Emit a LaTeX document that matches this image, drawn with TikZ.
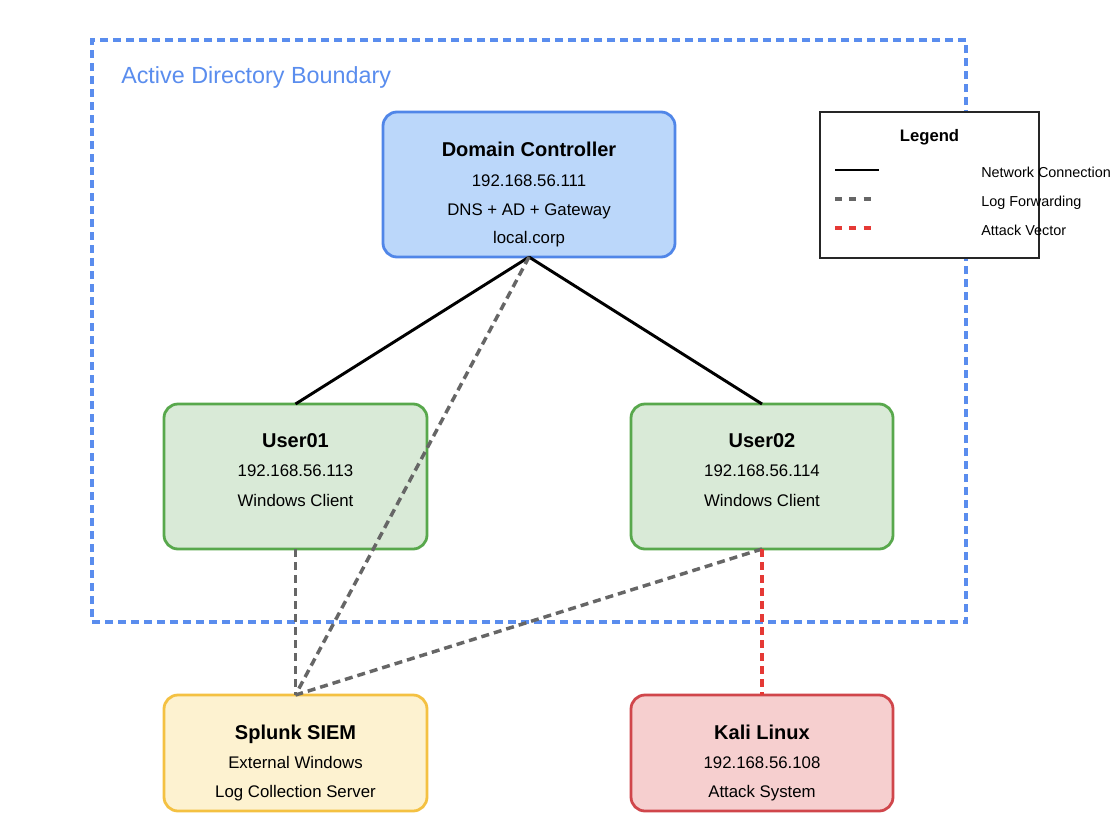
\documentclass[tikz,border=0pt]{standalone}
\usepackage{fontspec}
\setmainfont{Liberation Sans}
\definecolor{bndBlue}{HTML}{5A8DEE}
\definecolor{dcFill}{HTML}{BBD7FA}
\definecolor{dcLine}{HTML}{5086E8}
\definecolor{uFill}{HTML}{D9EAD7}
\definecolor{uLine}{HTML}{58A84C}
\definecolor{sFill}{HTML}{FDF2D0}
\definecolor{sLine}{HTML}{F4C142}
\definecolor{kFill}{HTML}{F6CFCF}
\definecolor{kLine}{HTML}{D0464B}
\definecolor{logGray}{HTML}{666666}
\definecolor{atkRed}{HTML}{E53935}
\tikzset{
  box/.style={rectangle, rounded corners=10.5pt, line width=2.1pt, inner sep=0pt, outer sep=0pt},
  ttl/.style={font=\bfseries\fontsize{15}{18}\selectfont, anchor=base, inner sep=0pt},
  txt/.style={font=\fontsize{12.6}{15}\selectfont, anchor=base, inner sep=0pt},
  legtxt/.style={font=\fontsize{10.8}{13}\selectfont, anchor=base west, inner sep=0pt},
  netline/.style={line width=2.2pt, draw=black},
  logline/.style={line width=2.6pt, draw=logGray, dash pattern=on 6pt off 3.75pt},
  atkline/.style={line width=2.6pt, draw=atkRed, dash pattern=on 6pt off 3.75pt},
}
\begin{document}
\begin{tikzpicture}[x=0.75pt,y=-0.75pt]
\useasboundingbox (0,0) rectangle (1113,828);
\fill[white] (0,0) rectangle (1113,828);
% boundary
\node[draw=bndBlue, line width=2.5pt, dash pattern=on 6pt off 3.75pt, rectangle, inner sep=0pt,
      minimum width=655.5pt, minimum height=436.5pt] (bnd) at (529,331) {};
\node[anchor=base west, inner sep=0pt, text=bndBlue, font=\fontsize{17.5}{21}\selectfont] (bndlbl) at (121,83) {Active Directory Boundary};
% boxes
\node[box, draw=dcLine, fill=dcFill, minimum width=219pt, minimum height=108.75pt] (dc) at (529,184.5) {};
\node[box, draw=uLine, fill=uFill, minimum width=197.25pt, minimum height=108.75pt] (u1) at (295.5,476.5) {};
\node[box, draw=uLine, fill=uFill, minimum width=196.5pt, minimum height=108.75pt] (u2) at (762,476.5) {};
\node[box, draw=sLine, fill=sFill, minimum width=197.25pt, minimum height=87pt] (sp) at (295.5,753) {};
\node[box, draw=kLine, fill=kFill, minimum width=196.5pt, minimum height=87pt] (ka) at (762,753) {};
% legend
\node[rectangle, draw=black!85, line width=1.4pt, fill=white, inner sep=0pt, minimum width=164.25pt, minimum height=109.5pt] (leg) at (929.5,185) {};
\node[font=\bfseries\fontsize{12.5}{15}\selectfont, anchor=base, inner sep=0pt] (legt) at (929.5,141) {Legend};
\coordinate (l1a) at (835,170); \coordinate (l1b) at (879,170);
\coordinate (l2a) at (835,199); \coordinate (l2b) at (874,199);
\coordinate (l3a) at (835,228); \coordinate (l3b) at (874,228);
\draw[netline] (l1a) -- (l1b);
\draw[line width=2.5pt, draw=logGray, dash pattern=on 5.25pt off 5.5pt] (l2a) -- (l2b);
\draw[line width=2.5pt, draw=atkRed, dash pattern=on 5.25pt off 5.5pt] (l3a) -- (l3b);
\node[legtxt] (lg1) at (981,177) {Network Connection};
\node[legtxt] (lg2) at (981,206) {Log Forwarding};
\node[legtxt] (lg3) at (981,235) {Attack Vector};
% connectors
\draw[netline] (dc.south) -- (u1.north);
\draw[netline] (dc.south) -- (u2.north);
\draw[logline] (u1.south) -- (sp.north);
\draw[logline] (dc.south) -- (sp.north);
\draw[logline] (u2.south) -- (sp.north);
\draw[atkline] (u2.south) -- (ka.north);
% texts
\node[ttl] (dct) at (529,156) {Domain Controller};
\node[txt] (dc1) at (529,186) {192.168.56.111};
\node[txt] (dc2) at (529,215) {DNS + AD + Gateway};
\node[txt] (dc3) at (529,243) {local.corp};
\node[ttl] (u1t) at (295.5,447) {User01};
\node[txt] (u11) at (295.5,476) {192.168.56.113};
\node[txt] (u12) at (295.5,506) {Windows Client};
\node[ttl] (u2t) at (762,447) {User02};
\node[txt] (u21) at (762,476) {192.168.56.114};
\node[txt] (u22) at (762,506) {Windows Client};
\node[ttl] (spt) at (295.5,739) {Splunk SIEM};
\node[txt] (sp1) at (295.5,768) {External Windows};
\node[txt] (sp2) at (295.5,797) {Log Collection Server};
\node[ttl] (kat) at (762,739) {Kali Linux};
\node[txt] (ka1) at (762,768) {192.168.56.108};
\node[txt] (ka2) at (762,797) {Attack System};
\end{tikzpicture}
\end{document}
